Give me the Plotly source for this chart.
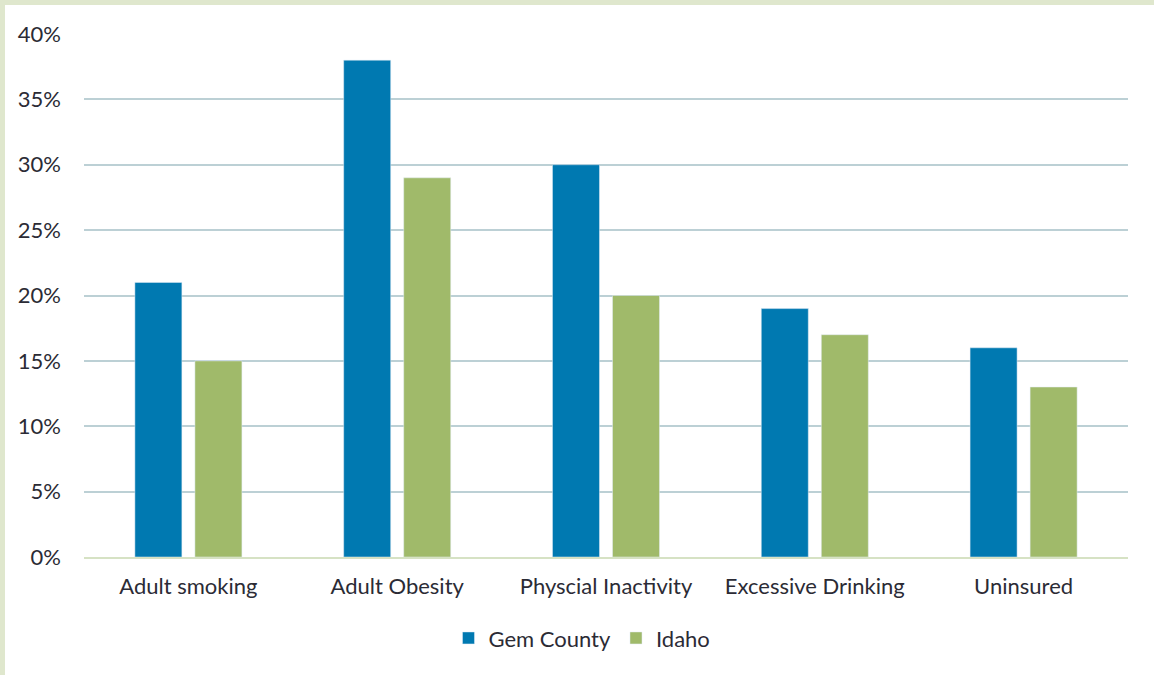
import plotly.graph_objects as go

categories = ["Adult smoking", "Adult Obesity", "Physcial Inactivity", "Excessive Drinking", "Uninsured"]
gem_county = [21, 38, 30, 19, 16]
idaho = [15, 29, 20, 17, 13]
tick_vals = [0, 5, 10, 15, 20, 25, 30, 35, 40]
tick_text = ["0%", "5%", "10%", "15%", "20%", "25%", "30%", "35%", "40%"]

W, H = 1154, 675
ml, mr, mt, mb = 84, 26, 34, 118
pw, ph = W - ml - mr, H - mt - mb

def px_x(p):
    return (p - ml) / pw

def px_y(p):
    return (H - mb - p) / ph

fig = go.Figure()
fig.add_trace(go.Bar(name="Gem County", x=categories, y=gem_county, marker_color="#0079b1"))
fig.add_trace(go.Bar(name="Idaho", x=categories, y=idaho, marker_color="#a0ba6a"))

border = "#dfe7cd"
fig.add_shape(type="rect", xref="paper", yref="paper", x0=px_x(0), x1=px_x(W), y0=px_y(0), y1=px_y(5),
              fillcolor=border, line_width=0, layer="below")
fig.add_shape(type="rect", xref="paper", yref="paper", x0=px_x(0), x1=px_x(5), y0=px_y(0), y1=px_y(H),
              fillcolor=border, line_width=0, layer="below")

fig.update_layout(
    width=W, height=H,
    margin=dict(l=ml, r=mr, t=mt, b=mb),
    paper_bgcolor="white", plot_bgcolor="white",
    barmode="group", bargap=0.425, bargroupgap=0.217,
    font=dict(family="Lato", size=22, color="#2b2b35"),
    showlegend=True,
    legend=dict(orientation="h", x=0.477, xanchor="center", y=-0.115, yanchor="top",
                font=dict(size=22), itemwidth=30, traceorder="normal"),
    xaxis=dict(showline=True, linecolor="#d6e2c4", linewidth=2, ticks="", tickfont=dict(size=22)),
    yaxis=dict(range=[0, 40], tickvals=tick_vals, ticktext=tick_text, showgrid=True,
               gridcolor="#bcd0d5", gridwidth=2, zeroline=False, ticks="", ticklen=0,
               tickfont=dict(size=22)),
)
fig.update_yaxes(ticklabelstandoff=22)
fig.update_xaxes(ticklabelstandoff=9)

fig.write_html("out.html")
